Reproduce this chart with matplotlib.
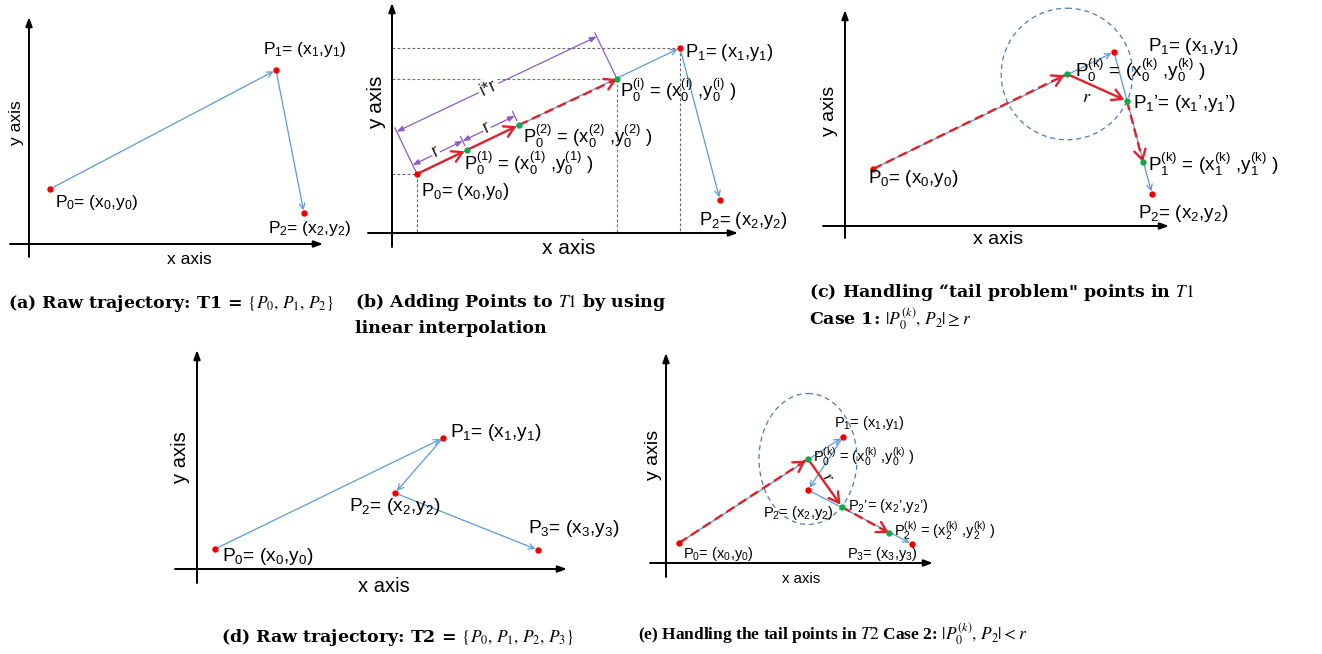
import numpy as np
import matplotlib
matplotlib.use("Agg")
import matplotlib.pyplot as plt
from matplotlib.patches import Ellipse, Circle

plt.rcParams["mathtext.fontset"] = "custom"
plt.rcParams["mathtext.rm"] = "Liberation Sans"
plt.rcParams["mathtext.it"] = "Liberation Sans:italic"
plt.rcParams["mathtext.bf"] = "Liberation Sans:bold"

SANS = "Liberation Sans"
SERIF = "DejaVu Serif"
SERIF_NARROW = "Liberation Serif"

BLUE = "#5B9BD5"
RED = "#E3202A"
DOT_RED = "#F20000"
GREEN = "#14A84A"
PURPLE = "#8D5AC8"
CIRCLE_C = "#4C7DB4"

# ---------------- trajectory points (canvas pixel units) ----------------
# (a) raw T1
a_x = [50, 276, 304]
a_y = [189, 70, 213]
# (b) T1 with interpolated points P0(1), P0(2), P0(i)
b_x = [417, 680, 720]
b_y = [174, 48, 200]
b_new_x = [467, 519, 617]
b_new_y = [150, 125, 79]
# (c) T1 tail case: P0(k), P1', P1(k)
c_x = [873, 1114, 1152]
c_y = [169, 52, 194]
c_new_x = [1067, 1127, 1143]
c_new_y = [74, 101, 162]
# (d) raw T2
d_x = [215, 443, 395, 538]
d_y = [549, 438, 493, 550]
# (e) T2 tail case: P0(k), P2', P2(k)
e_x = [679, 843, 808, 912]
e_y = [543, 437, 490, 544]
e_new_x = [808, 842, 889]
e_new_y = [459, 507, 533]

# ---------------- point labels ----------------
lab_P = ["P$_0$= (x$_0$,y$_0$)", "P$_1$= (x$_1$,y$_1$)",
         "P$_2$= (x$_2$,y$_2$)", "P$_3$= (x$_3$,y$_3$)"]
lab_b_new = [r"P$_0^{\mathrm{(1)}}$ = (x$_0^{\mathrm{(1)}}$ ,y$_0^{\mathrm{(1)}}$ )",
             r"P$_0^{\mathrm{(2)}}$ = (x$_0^{\mathrm{(2)}}$ ,y$_0^{\mathrm{(2)}}$ )",
             r"P$_0^{\mathrm{(i)}}$ = (x$_0^{\mathrm{(i)}}$ ,y$_0^{\mathrm{(i)}}$ )"]
lab_c_new = [r"P$_0^{\mathrm{(k)}}$ = (x$_0^{\mathrm{(k)}}$ ,y$_0^{\mathrm{(k)}}$ )",
             "P$_1$’= (x$_1$’,y$_1$’)",
             r"P$_1^{\mathrm{(k)}}$ = (x$_1^{\mathrm{(k)}}$ ,y$_1^{\mathrm{(k)}}$ )"]
lab_e_new = [r"P$_0^{\mathrm{(k)}}$ = (x$_0^{\mathrm{(k)}}$ ,y$_0^{\mathrm{(k)}}$ )",
             "P$_2$’= (x$_2$’,y$_2$’)",
             r"P$_2^{\mathrm{(k)}}$ = (x$_2^{\mathrm{(k)}}$ ,y$_2^{\mathrm{(k)}}$ )"]

captions = {
    "a": ["(a) Raw trajectory: T1 = $\\{P_0{,}\\ P_1{,}\\ P_2\\}$"],
    "b": ["(b) Adding Points to $T1$ by using", "linear interpolation"],
    "c": ["(c) Handling “tail problem\" points in $T1$",
          "Case 1: $|P_0^{(k)}{,}\\ P_2| \\geq r$"],
    "d": ["(d) Raw trajectory: T2 = $\\{P_0{,}\\ P_1{,}\\ P_2{,}\\ P_3\\}$"],
    "e": ["(e) Handling the tail points in $T2$ Case 2: $|P_0^{(k)}{,}\\ P_2| < r$"],
}

# ---------------- canvas ----------------
fig = plt.figure(figsize=(13.22, 6.54), dpi=100)
ax = fig.add_axes([0, 0, 1, 1])
ax.set_xlim(0, 1322)
ax.set_ylim(654, 0)
ax.axis("off")


def frame(x0, yt, yb, y0, xl, xr, ylab_pos, xlab_pos, ysize, xsize):
    style = "-|>,head_length=0.6,head_width=0.22"
    kw = dict(arrowstyle=style, color="black", lw=1.4, shrinkA=0, shrinkB=0,
              mutation_scale=9)
    ax.annotate("", xy=(x0, yt), xytext=(x0, yb), arrowprops=kw)
    ax.annotate("", xy=(xr, y0), xytext=(xl, y0), arrowprops=kw)
    ax.text(*ylab_pos, "y axis", rotation=90, ha="center", va="center",
            fontsize=ysize, family=SANS)
    ax.text(*xlab_pos, "x axis", ha="center", va="center",
            fontsize=xsize, family=SANS)


def blue_path(xs, ys):
    for i in range(len(xs) - 1):
        ax.annotate("", xy=(xs[i + 1], ys[i + 1]), xytext=(xs[i], ys[i]),
                    arrowprops=dict(arrowstyle="->,head_length=0.5,head_width=0.25",
                                    color=BLUE, lw=0.9, shrinkA=0, shrinkB=2,
                                    mutation_scale=8), zorder=2)


def red_arrow(p, q, dashed=False):
    p = np.asarray(p, float)
    q = np.asarray(q, float)
    if dashed:
        ax.plot([p[0], q[0]], [p[1], q[1]], color=RED, lw=1.7,
                ls=(0, (4, 2)), zorder=3, solid_capstyle="butt")
        start = q - 0.02 * (q - p)
    else:
        start = p
    ax.annotate("", xy=q, xytext=start,
                arrowprops=dict(arrowstyle="->,head_length=0.55,head_width=0.32",
                                color=RED, lw=1.7, shrinkA=0, shrinkB=2,
                                mutation_scale=13), zorder=3)


def dots(xs, ys, color):
    ax.plot(xs, ys, "o", color=color, ms=4.6, mec="none", zorder=5)


def label(txt, x, y, size):
    ax.text(x, y, txt, ha="left", va="baseline", fontsize=size, family=SANS, zorder=6)


def caption(lines, x, y, size, ha="left", step=26, family=SERIF):
    for k, line in enumerate(lines):
        ax.text(x, y + k * step, line, ha=ha, va="baseline", fontsize=size,
                family=family, weight="bold", math_fontfamily="stix")


# ================= (a) =================
frame(29, 17, 257, 244, 10, 323, (17, 123), (189, 260), 12.5, 12.5)
blue_path(a_x, a_y)
dots(a_x, a_y, DOT_RED)
LA = 12.5
label(lab_P[0], 55, 207, LA)
label(lab_P[1], 263, 54, LA)
label(lab_P[2], 268, 233, LA)
caption(captions["a"], 8, 308, 12.5)

# ================= (b) =================
frame(392, 3, 247, 233, 368, 738, (377, 102), (569, 248), 15, 15)
bp0 = np.array([b_x[0], b_y[0]], float)
bp1 = np.array([b_x[1], b_y[1]], float)
bn = [np.array([x, y], float) for x, y in zip(b_new_x, b_new_y)]

# projection guides
guide = dict(lw=0.8, ls=(0, (2.5, 2)), zorder=1)
ax.plot([392, b_x[1]], [b_y[1], b_y[1]], color="#666666", **guide)
ax.plot([392, b_x[0]], [b_y[0], b_y[0]], color="#666666", **guide)
ax.plot([392, b_new_x[2]], [b_new_y[2], b_new_y[2]], color=GREEN, **guide)
ax.plot([b_x[0], b_x[0]], [b_y[0], 233], color="#666666", **guide)
ax.plot([b_x[1], b_x[1]], [b_y[1], 233], color="#666666", **guide)
ax.plot([b_new_x[2], b_new_x[2]], [b_new_y[2], 233], color=GREEN, **guide)

blue_path(b_x, b_y)
red_arrow(bp0, bn[0])
red_arrow(bn[0], bn[1])
red_arrow(bn[1], bn[2], dashed=True)

# dimension lines for r and i*r
u = (bp1 - bp0) / np.linalg.norm(bp1 - bp0)
nrm = np.array([u[1], -u[0]])
ang = np.degrees(np.arctan2(-u[1], u[0]))
dim = dict(arrowstyle="<|-|>,head_length=0.5,head_width=0.2", color=PURPLE,
           lw=0.9, shrinkA=0, shrinkB=0, mutation_scale=8)
ax.annotate("", xy=bn[2] + 47 * nrm, xytext=bp0 + 47 * nrm, arrowprops=dim, zorder=2)
for p in (bp0, bn[2]):
    s, e = p + 3 * nrm, p + 51 * nrm
    ax.plot([s[0], e[0]], [s[1], e[1]], color=PURPLE, lw=0.9, zorder=2)
ax.annotate("", xy=bn[0] + 10 * nrm, xytext=bp0 + 10 * nrm, arrowprops=dim, zorder=2)
ax.annotate("", xy=bn[1] + 10 * nrm, xytext=bn[0] + 10 * nrm, arrowprops=dim, zorder=2)
for p in (bn[0], bn[1]):
    s, e = p + 5 * nrm, p + 15 * nrm
    ax.plot([s[0], e[0]], [s[1], e[1]], color=PURPLE, lw=0.9, zorder=2)
mid = (bp0 + bn[2]) / 2 + 47 * nrm
ax.text(mid[0] - 8, mid[1] + 4, "i*r", rotation=ang, rotation_mode="anchor",
        ha="center", va="center", fontsize=13, family=SANS, color="#222222",
        bbox=dict(fc="white", ec="none", pad=1.5), zorder=4)
for p, q in ((bp0, bn[0]), (bn[0], bn[1])):
    m = (p + q) / 2 + 11 * nrm
    ax.text(m[0] - 2, m[1], "r", rotation=ang, rotation_mode="anchor",
            ha="center", va="center", fontsize=13, family=SANS, color="#222222",
            bbox=dict(fc="white", ec="none", pad=0.8), zorder=4)

dots(b_x, b_y, DOT_RED)
dots(b_new_x, b_new_y, GREEN)
LB = 13.2
label(lab_P[1], 685, 57, LB)
label(lab_b_new[2], 620, 97, LB)
label(lab_b_new[1], 523, 143, LB)
label(lab_b_new[0], 464, 170, LB)
label(lab_P[0], 421, 196, LB)
label(lab_P[2], 699, 225, LB)
caption(captions["b"], 355, 307, 12.5)

# ================= (c) =================
frame(845, 10, 238, 226, 823, 1169, (829, 111), (998, 240), 14, 14)
c_k = np.array([c_new_x[0], c_new_y[0]], float)
c_t = np.array([c_new_x[1], c_new_y[1]], float)
rad_c = np.linalg.norm(c_t - c_k)
ax.add_patch(Circle(c_k, rad_c, fill=False, ec=CIRCLE_C, lw=0.9,
                    ls=(0, (4, 3)), zorder=1))
blue_path(c_x, c_y)
red_arrow((c_x[0], c_y[0]), c_k, dashed=True)
red_arrow(c_k, c_t)
red_arrow(c_t, (c_new_x[2], c_new_y[2]), dashed=True)
ax.text(1087, 97, "$r$", ha="center", va="center", fontsize=13,
        math_fontfamily="stix")
dots(c_x, c_y, DOT_RED)
dots(c_new_x, c_new_y, GREEN)
LC = 13.6
label(lab_P[1], 1148, 51, LC)
label(lab_c_new[0], 1075, 77, LC)
label(lab_c_new[1], 1133, 108, LC)
label(lab_c_new[2], 1148, 171, LC)
label(lab_P[0], 868, 183, LC)
label(lab_P[2], 1138, 218, LC)
caption(captions["c"], 809, 297, 12.5, step=28)

# ================= (d) =================
frame(197, 350, 583, 569, 175, 567, (180, 457), (384, 586), 14.5, 14.5)
blue_path(d_x, d_y)
dots(d_x, d_y, DOT_RED)
LD = 13.8
label(lab_P[1], 450, 437, LD)
label(lab_P[2], 349, 511, LD)
label(lab_P[3], 528, 533, LD)
label(lab_P[0], 222, 561, LD)
caption(captions["d"], 398, 642, 12.5, ha="center")

# ================= (e) =================
frame(666, 353, 577, 563, 650, 933, (653, 455), (801, 579), 14, 10.8)
e_k = np.array([e_new_x[0], e_new_y[0]], float)
ax.add_patch(Ellipse(e_k, 98, 131, fill=False, ec=CIRCLE_C, lw=0.9,
                     ls=(0, (4, 3)), zorder=1))
blue_path(e_x, e_y)
red_arrow((e_x[0], e_y[0]), e_k, dashed=True)
red_arrow(e_k, (e_new_x[1], e_new_y[1]))
red_arrow((e_new_x[1], e_new_y[1]), (e_new_x[2], e_new_y[2]), dashed=True)
ax.text(828, 477, "$r$", ha="center", va="center", fontsize=12,
        math_fontfamily="stix", rotation=-50)
dots(e_x, e_y, DOT_RED)
dots(e_new_x, e_new_y, GREEN)
LE = 10.5
label(lab_P[1], 834, 427, LE)
label(lab_e_new[0], 813, 463, LE)
label(lab_e_new[1], 848, 510, LE)
label(lab_P[2], 763, 517, LE)
label(lab_e_new[2], 894, 537, LE)
label(lab_P[3], 847, 558, LE)
label(lab_P[0], 683, 558, LE)
caption(captions["e"], 638, 640, 12.5, family=SERIF_NARROW)

fig.savefig("out.png", dpi=100, facecolor="white")
